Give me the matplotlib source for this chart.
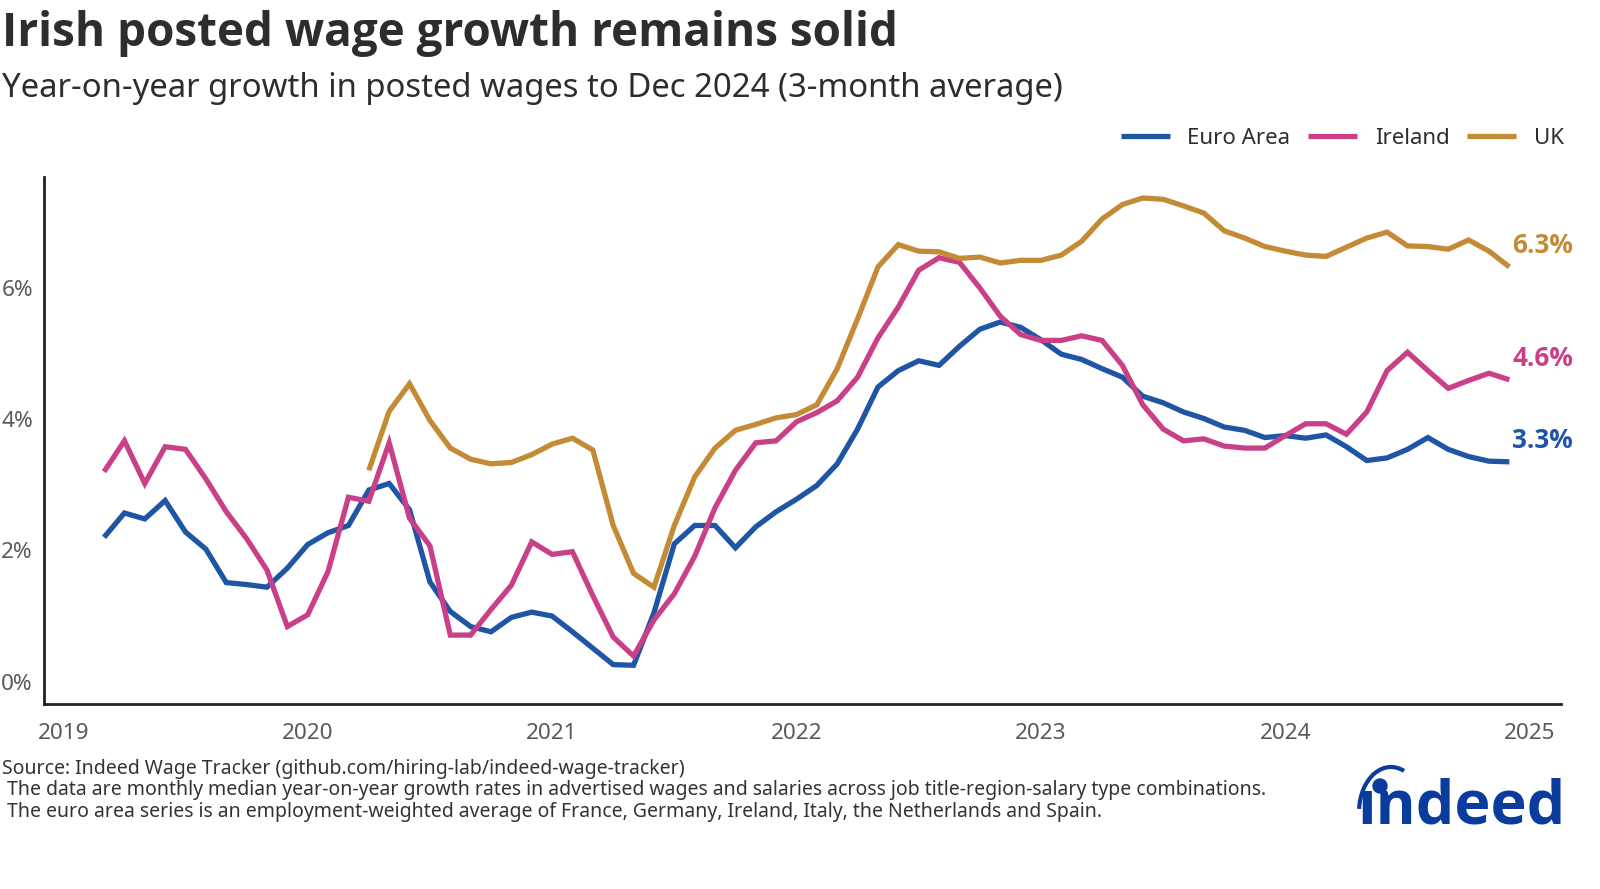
import matplotlib
matplotlib.use("Agg")
import matplotlib.pyplot as plt
from matplotlib.patches import Arc, Ellipse
import numpy as np

plt.rcParams['font.family'] = ['Noto Sans', 'DejaVu Sans']
BOLD = ['Open Sans', 'DejaVu Sans']

# ---- data (monthly, year-on-year %, 3-month average) ----
euro_start = (2019, 3)
euro_area = [2.20, 2.57, 2.48, 2.76, 2.28, 2.02, 1.51, 1.48, 1.44, 1.73,
             2.09, 2.27, 2.38, 2.92, 3.02, 2.62, 1.52, 1.07, 0.84, 0.76, 0.98, 1.06,
             1.00, 0.76, 0.51, 0.26, 0.25, 1.05, 2.10, 2.38, 2.38, 2.04, 2.36, 2.59,
             2.78, 2.99, 3.32, 3.85, 4.49, 4.74, 4.89, 4.82, 5.11, 5.37, 5.48, 5.40,
             5.21, 4.99, 4.91, 4.77, 4.64, 4.35, 4.25, 4.11, 4.01, 3.88, 3.83, 3.72,
             3.75, 3.71, 3.76, 3.58, 3.37, 3.41, 3.54, 3.72, 3.54, 3.43, 3.36, 3.35]

ireland_start = (2019, 3)
ireland = [3.20, 3.67, 3.02, 3.58, 3.54, 3.09, 2.59, 2.18, 1.70, 0.84,
           1.02, 1.68, 2.81, 2.75, 3.64, 2.49, 2.07, 0.71, 0.71, 1.10, 1.47, 2.13,
           1.94, 1.98, 1.31, 0.68, 0.39, 0.94, 1.34, 1.91, 2.65, 3.22, 3.64, 3.67,
           3.96, 4.10, 4.28, 4.64, 5.24, 5.71, 6.27, 6.46, 6.39, 6.00, 5.57, 5.29,
           5.20, 5.20, 5.27, 5.20, 4.82, 4.22, 3.85, 3.67, 3.70, 3.59, 3.56, 3.56,
           3.75, 3.93, 3.93, 3.77, 4.11, 4.74, 5.02, 4.74, 4.47, 4.59, 4.70, 4.60]

uk_start = (2020, 4)
uk = [3.22, 4.12, 4.54, 3.98, 3.56, 3.39, 3.32, 3.34, 3.46,
      3.62, 3.71, 3.53, 2.38, 1.65, 1.44, 2.38, 3.12, 3.56, 3.83, 3.92, 4.02,
      4.07, 4.22, 4.77, 5.53, 6.32, 6.66, 6.56, 6.55, 6.45, 6.47, 6.38, 6.42,
      6.42, 6.50, 6.71, 7.05, 7.27, 7.37, 7.35, 7.25, 7.14, 6.87, 6.76, 6.63,
      6.56, 6.50, 6.48, 6.62, 6.76, 6.85, 6.64, 6.63, 6.59, 6.73, 6.56, 6.32]

series_names = ["Euro Area", "Ireland", "UK"]
end_labels = ["3.3%", "4.6%", "6.3%"]
year_ticks = [2019, 2020, 2021, 2022, 2023, 2024, 2025]
y_ticks = [0, 2, 4, 6]

colors = {"Euro Area": "#1F55A5", "Ireland": "#C94089", "UK": "#C48B36"}


def month_axis(start, n):
    y, m = start
    return np.array([y + (m - 1 + i) / 12.0 for i in range(n)])


data = {
    "Euro Area": (month_axis(euro_start, len(euro_area)), euro_area),
    "Ireland": (month_axis(ireland_start, len(ireland)), ireland),
    "UK": (month_axis(uk_start, len(uk)), uk),
}

W, H = 1600, 889
fig = plt.figure(figsize=(W / 100, H / 100), dpi=100)
ax = fig.add_axes([44 / W, 1 - 704 / H, (1561 - 44) / W, (704 - 177) / H])

for name in series_names:
    xs, ys = data[name]
    ax.plot(xs, ys, color=colors[name], lw=3.8, label=name,
            solid_joinstyle='miter', solid_capstyle='butt')

for name, lab in zip(series_names, end_labels):
    xs, ys = data[name]
    ax.annotate(lab, xy=(xs[-1], ys[-1]), xytext=(2, 15.5),
                textcoords='offset points', ha='left', va='center',
                fontsize=18.8, fontweight='bold', family=BOLD, color=colors[name],
                annotation_clip=False)

ax.set_xlim(2019 - 0.079, 2025 + 0.128)
ax.set_ylim(-0.34, 7.69)
ax.set_xticks(year_ticks)
ax.set_xticklabels([str(y) for y in year_ticks])
ax.set_yticks(y_ticks)
ax.set_yticklabels([f"{v}%" for v in y_ticks])
ax.tick_params(axis='both', length=0, labelsize=16.2, labelcolor='#595959')
ax.tick_params(axis='x', pad=14)
ax.tick_params(axis='y', pad=8)
for s in ['top', 'right']:
    ax.spines[s].set_visible(False)
for s in ['left', 'bottom']:
    ax.spines[s].set_linewidth(2)
    ax.spines[s].set_color('#222222')
ax.grid(False)

fig.text(2 / W, 1 - 46 / H, "Irish posted wage growth remains solid",
         fontsize=33, fontweight='bold', family=BOLD, color='#2d2d2d',
         ha='left', va='baseline')
fig.text(2 / W, 1 - 97 / H,
         "Year-on-year growth in posted wages to Dec 2024 (3-month average)",
         fontsize=23.7, color='#2d2d2d', ha='left', va='baseline')

leg = fig.legend(loc='center right', bbox_to_anchor=(1564 / W, 1 - 138 / H),
                 ncol=3, frameon=False, fontsize=16, handlelength=2.2,
                 handletextpad=0.8, columnspacing=0.8, borderaxespad=0,
                 borderpad=0)
for t in leg.get_texts():
    t.set_color('#2d2d2d')

foot = ["Source: Indeed Wage Tracker (github.com/hiring-lab/indeed-wage-tracker)",
        " The data are monthly median year-on-year growth rates in advertised wages and salaries across job title-region-salary type combinations.",
        " The euro area series is an employment-weighted average of France, Germany, Ireland, Italy, the Netherlands and Spain."]
for i, line in enumerate(foot):
    fig.text(2 / W, 1 - (769 + 21.5 * i) / H, line, fontsize=14.0, color='#333333',
             ha='left', va='center')

# Indeed logo
logo_blue = '#0A3C9E'
fig.text(1566 / W, 1 - 823 / H, "ındeed", fontsize=44, fontweight='bold',
         family=BOLD, color=logo_blue, ha='right', va='baseline')
arc = Arc((1391 / W, 1 - 812 / H), 64 / W, 90 / H, theta1=80, theta2=170,
          transform=fig.transFigure, color=logo_blue, lw=3)
fig.add_artist(arc)
fig.add_artist(Ellipse((1380 / W, 1 - 786 / H), 14 / W, 14 / H,
                       transform=fig.transFigure, color=logo_blue))

fig.savefig("out.png", dpi=100)
